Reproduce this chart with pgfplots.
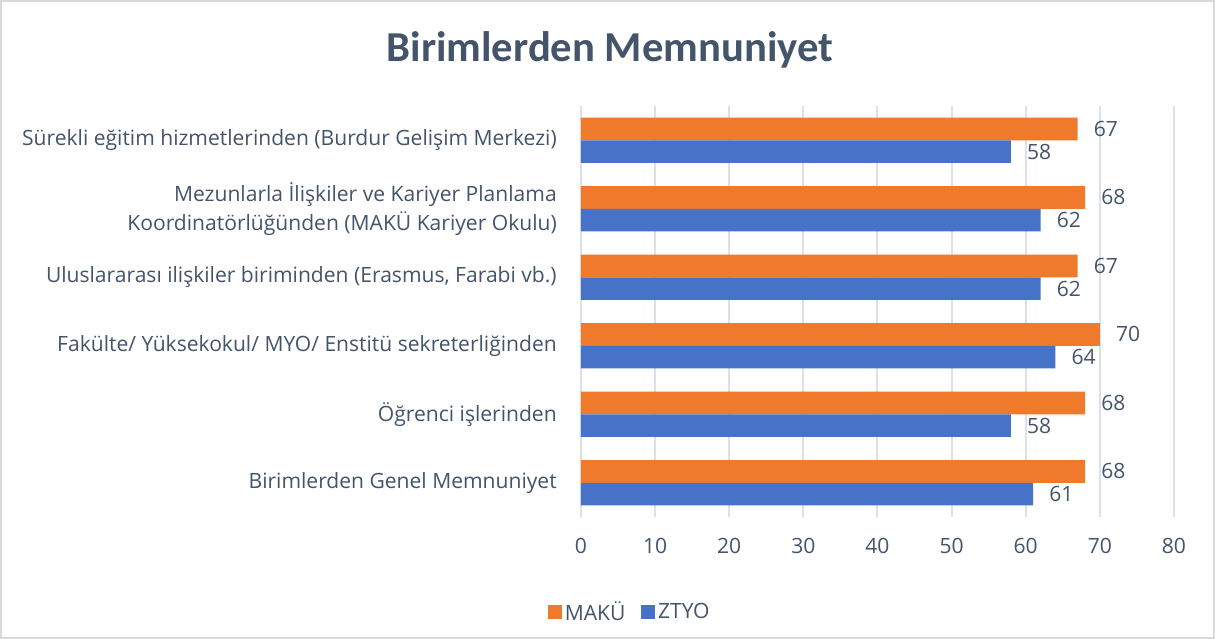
\documentclass[border=0pt]{standalone}
\usepackage{fontspec}
\setmainfont{Open Sans}
\newfontfamily\titlefont{Carlito}
\usepackage{pgfplots}
\pgfplotsset{compat=1.18}
\definecolor{txt}{HTML}{44546A}
\definecolor{grd}{HTML}{DCE1E8}
\definecolor{frm}{HTML}{D9D9D9}
\definecolor{orM}{HTML}{EF7A2C}
\definecolor{blM}{HTML}{4672C8}
\begin{document}
\begin{tikzpicture}
\useasboundingbox (0,0) rectangle (911.25pt,-479.25pt);
\draw[frm, line width=1.2pt] (0.6pt,-0.6pt) rectangle (910.65pt,-478.65pt);
\node[txt, font=\titlefont\fontsize{32}{38}\selectfont\bfseries] at (457.5pt,-37.5pt) {Birimlerden Memnuniyet};
\begin{axis}[
  at={(435.75pt,-387.75pt)}, anchor=south west,
  scale only axis, width=444.75pt, height=308.25pt,
  xbar, bar width=0.33,
  xmin=0, xmax=80, xtick={0,10,...,80},
  ymin=-0.5, ymax=5.5, ytick={0,...,5},
  yticklabels={Birimlerden Genel Memnuniyet, Öğrenci işlerinden, Fakülte/ Yüksekokul/ MYO/ Enstitü sekreterliğinden, {Uluslararası ilişkiler biriminden (Erasmus, Farabi vb.)}, {Mezunlarla İlişkiler ve Kariyer Planlama\\Koordinatörlüğünden (MAKÜ Kariyer Okulu)}, Sürekli eğitim hizmetlerinden (Burdur Gelişim Merkezi)},
  axis line style={draw=none}, major tick length=0pt,
  xmajorgrids, grid style={grd, line width=1.5pt},
  /pgf/number format/assume math mode=true,
  tick label style={font=\fontsize{15.8}{21.7}\selectfont, text=txt},
  yticklabel style={align=right, inner sep=0pt, xshift=-18pt},
  xticklabel style={inner sep=0pt, yshift=-16pt},
  point meta=x,
  nodes near coords,
  nodes near coords style={font=\fontsize{15.8}{18}\selectfont, text=txt, anchor=west, inner sep=0pt, xshift=12pt},
  legend style={at={(0.083,-0.231)}, anchor=center, draw=none, legend columns=2, font=\fontsize{15.8}{18}\selectfont, text=txt, /tikz/every even column/.append style={column sep=10pt}},
  legend image code/.code={\fill[#1] (0pt,-5.25pt) rectangle (10.5pt,5.25pt);},
]
\addplot[draw=none, fill=orM, bar shift=0.165] coordinates {(68,0) (68,1) (70,2) (67,3) (68,4) (67,5)};
\addplot[draw=none, fill=blM, bar shift=-0.165] coordinates {(61,0) (58,1) (64,2) (62,3) (62,4) (58,5)};
\legend{MAKÜ, ZTYO}
\end{axis}
\end{tikzpicture}
\end{document}
